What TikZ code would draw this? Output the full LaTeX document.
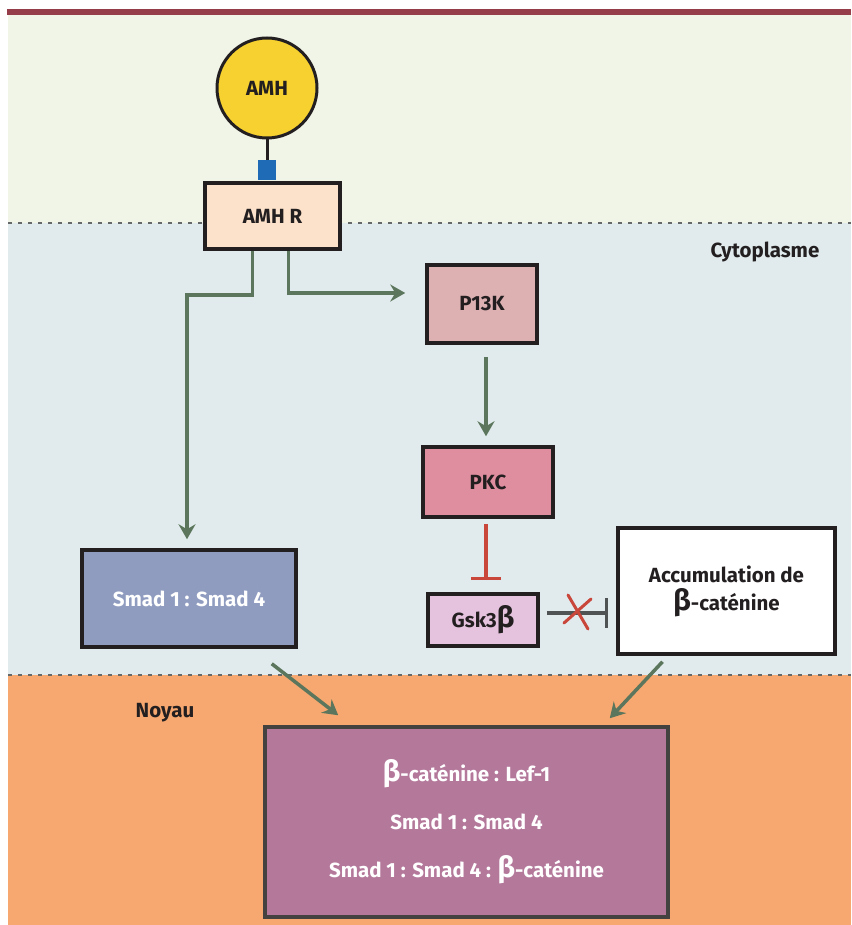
\documentclass[tikz,border=0pt]{standalone}
\usepackage{fontspec}
\setmainfont{Fira Sans}
\usetikzlibrary{arrows.meta}

\definecolor{topbar}{HTML}{953E4A}
\definecolor{outside}{HTML}{F1F5E8}
\definecolor{cyto}{HTML}{E1EBED}
\definecolor{nucleus}{HTML}{F7A870}
\definecolor{amhyellow}{HTML}{F7D130}
\definecolor{recblue}{HTML}{1F6BB5}
\definecolor{amhrfill}{HTML}{FCE2CA}
\definecolor{pikfill}{HTML}{DDB0B2}
\definecolor{pkcfill}{HTML}{DE8E9F}
\definecolor{smadfill}{HTML}{8F9CC0}
\definecolor{gskfill}{HTML}{E5C3DF}
\definecolor{nucfill}{HTML}{B4789B}
\definecolor{arrowgreen}{HTML}{5B765C}
\definecolor{inhibred}{HTML}{C9463A}
\definecolor{ink}{HTML}{231F20}
\definecolor{membranegrey}{HTML}{646868}

\newcommand{\bet}{{\fontsize{29}{29}\selectfont β}}

\tikzset{
  labeltext/.style={font=\fontsize{20.5}{24}\selectfont\bfseries, text=ink},
  box/.style={draw=ink, line width=3.5pt, inner sep=0pt, labeltext},
  membrane/.style={draw=membranegrey, line width=2.4pt, dash pattern=on 4pt off 6pt},
  activ/.style={draw=arrowgreen, line width=3.5pt, -{Stealth[length=15pt,width=17pt,inset=5pt]}},
  inhib/.style={line width=3.5pt, -{Bar[width=30pt,line width=3.5pt]}},
}

\begin{document}
\begin{tikzpicture}[x=1pt,y=-1pt]
\useasboundingbox (0,0) rectangle (851,925);
\fill[white] (0,0) rectangle (851,925);

% compartments
\fill[topbar] (7,9) rectangle (851,15);
\fill[outside] (8,15) rectangle (851,223);
\fill[cyto] (8,223) rectangle (851,675);
\fill[nucleus] (8,675) rectangle (851,925);
\draw[membrane] (8,223) -- (851,223);
\draw[membrane] (8,675) -- (851,675);

% compartment labels
\node[labeltext] (cytolabel) at (765,252) {Cytoplasme};
\node[labeltext] (noyaulabel) at (165,713) {Noyau};

% ligand and receptor
\node[circle, draw=ink, line width=3pt, fill=amhyellow, minimum size=100pt, inner sep=0pt, labeltext] (amh) at (267,88) {AMH};
\node[fill=recblue, minimum width=18pt, minimum height=20pt, inner sep=0pt] (rec) at (267,170) {};
\draw[ink, line width=3pt] (amh.south) -- (rec.north);
\node[box, fill=amhrfill, minimum width=135pt, minimum height=66pt] (amhr) at (272.5,216) {AMH R};

% signalling boxes
\node[box, fill=pikfill, minimum width=110pt, minimum height=78pt] (pik) at (482,304) {P13K};
\node[box, fill=pkcfill, minimum width=130pt, minimum height=70pt] (pkc) at (488,482) {PKC};
\node[box, fill=gskfill, minimum width=110pt, minimum height=52pt] (gsk) at (483,620) {Gsk3\bet};
\node[box, fill=smadfill, minimum width=214pt, minimum height=97pt, text=white] (smad) at (189,598.5) {Smad 1 : Smad 4};
\node[box, fill=white, minimum width=217pt, minimum height=126pt, align=center,
      font=\fontsize{20.5}{28}\selectfont\bfseries] (accum) at (726.5,591) {Accumulation de\\\bet-caténine};
\node[box, fill=nucfill, draw=ink!85, minimum width=403pt, minimum height=190pt, text=white, align=center,
      font=\fontsize{20.5}{48}\selectfont\bfseries] (nuc) at (466.5,822) {\bet-caténine : Lef-1\\Smad 1 : Smad 4\\Smad 1 : Smad 4 : \bet-caténine};

% activating connectors
\draw[activ] ([xshift=-20pt]amhr.south) -- ++(0,44) -| ([xshift=-2pt,yshift=9pt]smad.north);
\draw[activ] ([xshift=16pt]amhr.south) |- ([xshift=-20pt,yshift=11pt]pik.west);
\draw[activ] ([xshift=4pt,yshift=-12pt]pik.south) -- ([xshift=-2pt,yshift=9pt]pkc.north);
\draw[activ] ([xshift=-26pt,yshift=-15pt]smad.south east) -- ([xshift=75pt,yshift=10pt]nuc.north west);
\draw[activ] ([xshift=-64pt,yshift=-6pt]accum.south) -- ([xshift=-60pt,yshift=7pt]nuc.north east);

% inhibitions
\draw[inhib, inhibred] ([xshift=-2pt,yshift=-5pt]pkc.south) -- ([xshift=3pt,yshift=12pt]gsk.north);
\draw[inhib, membranegrey!80!black] ([xshift=7pt,yshift=7pt]gsk.east) -- ([xshift=-8pt,yshift=-22pt]accum.west);

% the blocked inhibition is crossed out
\coordinate (cross) at (578,612);
\draw[inhibred, line width=3pt, line cap=round]
  ([xshift=-10pt,yshift=17pt]cross) -- ([xshift=10pt,yshift=-17pt]cross)
  ([xshift=-14pt,yshift=-11pt]cross) -- ([xshift=13pt,yshift=13pt]cross);
\end{tikzpicture}
\end{document}
